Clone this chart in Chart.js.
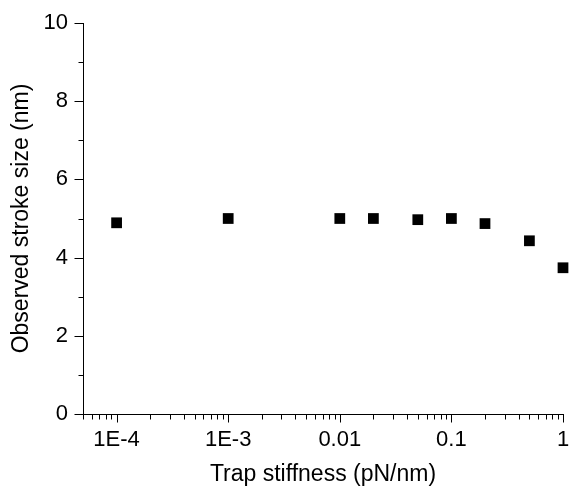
<!DOCTYPE html>
<html>
<head>
<meta charset="utf-8">
<script src="https://cdn.jsdelivr.net/npm/chart.js@4"></script>
<style>
  html, body { margin: 0; padding: 0; background: #fff; overflow: hidden; }
  #wrap { width: 571px; height: 488px; }
</style>
</head>
<body>
<div id="wrap"><canvas id="chart"></canvas></div>
<script>
// Data
var stiffness = [1e-4, 1e-3, 0.01, 0.02, 0.05, 0.1, 0.2, 0.5, 1.0];
var strokeSize = [4.89, 5.0, 5.0, 5.0, 4.97, 5.0, 4.87, 4.43, 3.74];
var xTickValues = [1e-4, 1e-3, 0.01, 0.1, 1];
var xTickLabels = ['1E-4', '1E-3', '0.01', '0.1', '1'];
var yMajor = [0, 2, 4, 6, 8, 10];
var yMinor = [1, 3, 5, 7, 9];

var FONT = 'Liberation Sans, Arial, sans-serif';

// Origin-style ticks: outward, major longer than minor
var tickMarks = {
    id: 'tickMarks',
    afterDraw: function (chart) {
        var ctx = chart.ctx;
        var x = chart.scales.x, y = chart.scales.y;
        ctx.save();
        ctx.strokeStyle = '#000';
        ctx.lineWidth = 1;
        ctx.beginPath();
        var x0 = Math.round(x.left) + 0.5;
        var y0 = Math.round(y.bottom) + 0.5;
        yMajor.forEach(function (v) {
            var p = Math.round(y.getPixelForValue(v)) + 0.5;
            ctx.moveTo(x0 - 9, p); ctx.lineTo(x0, p);
        });
        yMinor.forEach(function (v) {
            var p = Math.round(y.getPixelForValue(v)) + 0.5;
            ctx.moveTo(x0 - 5, p); ctx.lineTo(x0, p);
        });
        for (var e = -5; e <= 0; e++) {
            for (var m = 1; m <= 9; m++) {
                var v = m * Math.pow(10, e);
                if (v < x.min || v > x.max * 1.0001) continue;
                var p = Math.round(x.getPixelForValue(v)) + 0.5;
                var len = m === 1 ? 8 : 5;
                ctx.moveTo(p, y0); ctx.lineTo(p, y0 + len);
            }
        }
        ctx.stroke();
        ctx.restore();
    }
};

new Chart(document.getElementById('chart'), {
    type: 'scatter',
    data: {
        datasets: [{
            data: stiffness.map(function (s, i) {
                return { x: s, y: strokeSize[i] };
            }),
            pointStyle: 'rect',
            pointRadius: 7.6,
            pointHoverRadius: 7.6,
            backgroundColor: '#000',
            borderColor: '#000',
            borderWidth: 0,
            clip: false
        }]
    },
    options: {
        responsive: true,
        maintainAspectRatio: false,
        animation: false,
        events: [],
        layout: { padding: { top: 23, right: 8, left: 0, bottom: 0 } },
        plugins: {
            legend: { display: false },
            tooltip: { enabled: false }
        },
        scales: {
            x: {
                type: 'logarithmic',
                min: 5e-5,
                max: 1,
                grid: { display: false, drawTicks: false },
                border: { display: true, color: '#000', width: 1 },
                afterBuildTicks: function (scale) {
                    scale.ticks = xTickValues.map(function (v) { return { value: v }; });
                },
                afterFit: function (scale) {
                    scale.height = 74;
                    scale.paddingRight = 0;
                },
                ticks: {
                    autoSkip: false,
                    maxRotation: 0,
                    padding: 13,
                    color: '#000',
                    font: { family: FONT, size: 22 },
                    callback: function (v) {
                        var i = xTickValues.indexOf(v);
                        return i >= 0 ? xTickLabels[i] : '';
                    }
                },
                title: {
                    display: true,
                    text: 'Trap stiffness (pN/nm)',
                    color: '#000',
                    font: { family: FONT, size: 23 },
                    padding: { top: 4, bottom: 0 }
                }
            },
            y: {
                min: 0,
                max: 10,
                grid: { display: false, drawTicks: false },
                border: { display: true, color: '#000', width: 1 },
                afterBuildTicks: function (scale) {
                    scale.ticks = yMajor.map(function (v) { return { value: v }; });
                },
                afterFit: function (scale) {
                    scale.width = 83;
                    scale.paddingTop = 0;
                    scale.paddingBottom = 0;
                },
                ticks: {
                    padding: 15,
                    color: '#000',
                    font: { family: FONT, size: 22 }
                },
                title: {
                    display: true,
                    text: 'Observed stroke size (nm)',
                    color: '#000',
                    font: { family: FONT, size: 23 },
                    padding: { top: 8, bottom: 0 }
                }
            }
        }
    },
    plugins: [tickMarks]
});
</script>
</body>
</html>
